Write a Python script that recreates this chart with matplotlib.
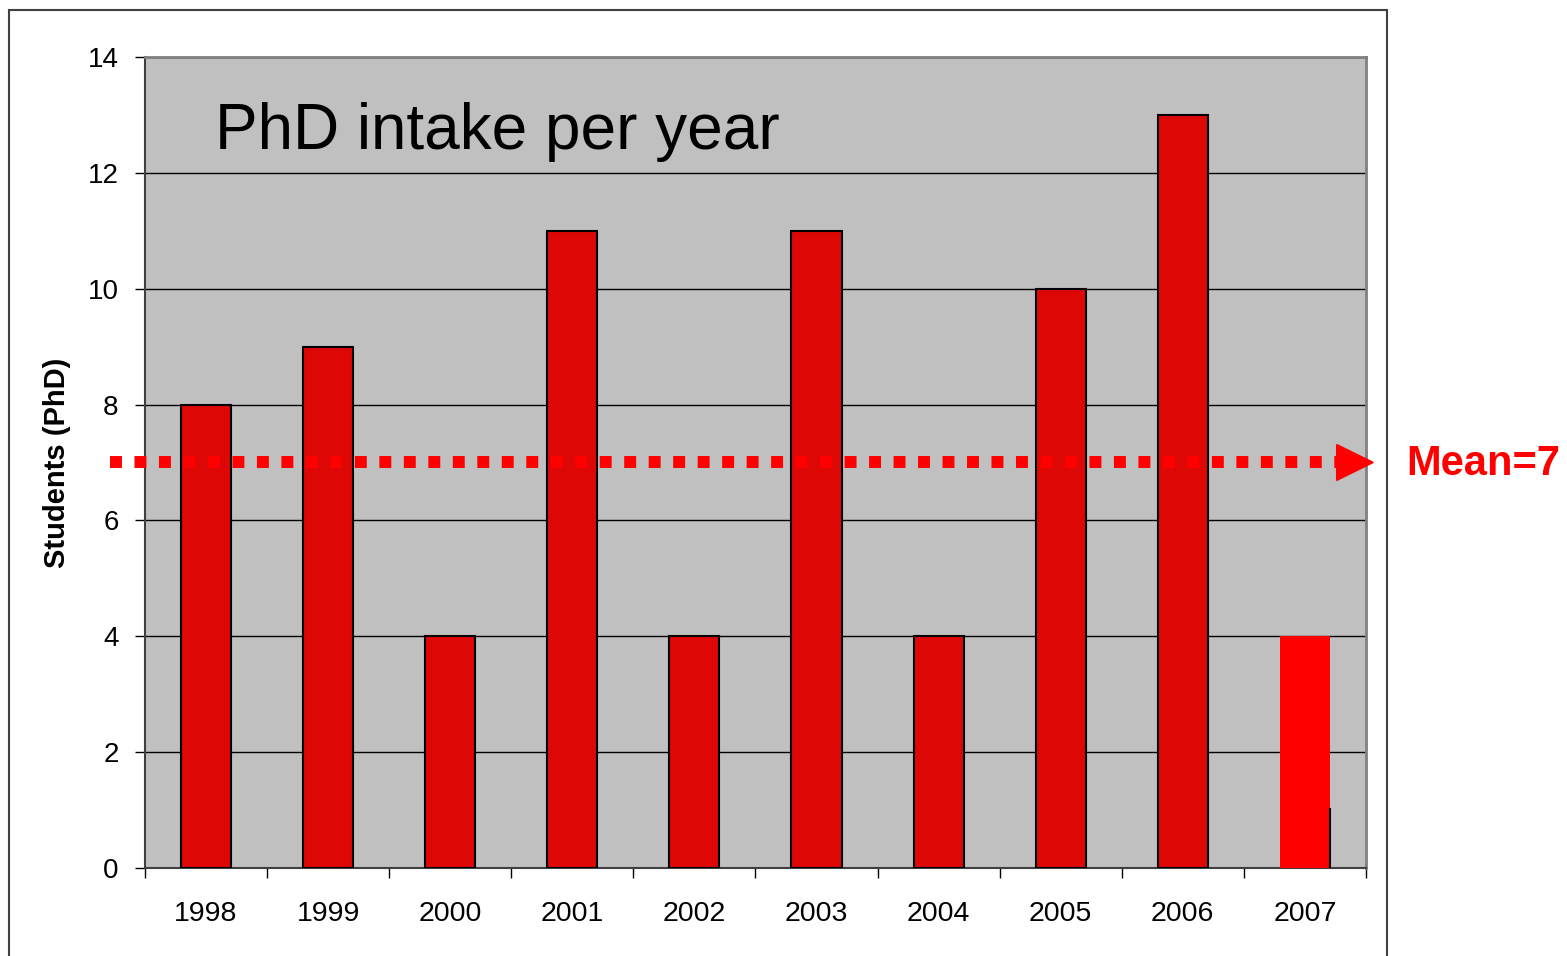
import matplotlib.pyplot as plt
from matplotlib.patches import Rectangle, Polygon
import numpy as np

plt.rcParams['font.family'] = ['Liberation Sans', 'DejaVu Sans']

# --- dades ---
years = ["1998", "1999", "2000", "2001", "2002", "2003", "2004", "2005", "2006", "2007"]
intake = [8, 9, 4, 11, 4, 11, 4, 10, 13, 4]
mean_value = 7
mean_label = "Mean=7"

x = np.arange(len(years))
bar_colors = ["#DD0806"] * (len(years) - 1) + ["#FF0000"]
edge_colors = ["black"] * (len(years) - 1) + ["none"]

fig = plt.figure(figsize=(15.67, 9.56), dpi=100)
ax = fig.add_axes([0.0925, 0.0921, 0.7792, 0.8483])
ax.set_facecolor("#C0C0C0")

# marc exterior
fig.patches.append(Rectangle((9 / 1567, -0.05), 1378 / 1567, 1 - 10 / 956 + 0.05,
                             transform=fig.transFigure, fill=False,
                             edgecolor="#404040", linewidth=1.5, zorder=0))

ax.bar(x, intake, width=0.41, color=bar_colors, edgecolor=edge_colors,
       linewidth=1.5, zorder=3)
# petit tra칞 negre al costat de la darrera barra
ax.plot([x[-1] + 0.205, x[-1] + 0.205], [0, 1.02], color="black", lw=1.5, zorder=4)

ax.set_xlim(-0.5, len(years) - 0.5)
ax.set_ylim(0, 14)
ax.set_yticks(range(0, 15, 2))
ax.yaxis.grid(True, color="black", linewidth=1)
ax.set_axisbelow(True)

ax.set_xticks(x)
ax.set_xticklabels(years)
ax.set_xticks(np.arange(-0.5, len(years), 1), minor=True)
ax.tick_params(axis="x", which="major", length=0, pad=24, labelsize=20.5)
ax.tick_params(axis="x", which="minor", length=7, width=1, color="black")
ax.tick_params(axis="y", length=7, width=1, pad=12, labelsize=20)

for side in ["top", "right"]:
    ax.spines[side].set_color("#808080")
    ax.spines[side].set_linewidth(2)
ax.spines["left"].set_color("#404040")
ax.spines["left"].set_linewidth(1.5)
ax.spines["bottom"].set_color("#404040")
ax.spines["bottom"].set_linewidth(1.5)

ax.set_ylabel("Students (PhD)", fontsize=21, fontweight="bold", labelpad=12)

ax.text(0.057, 0.907, "PhD intake per year", transform=ax.transAxes,
        fontsize=46, va="center", ha="left")

# l칤nia de la mitjana amb fletxa
ax.plot([-0.79, 9.27], [mean_value, mean_value], color="#FF0000", linewidth=8.6,
        dashes=(1, 1.05), solid_capstyle="butt", dash_capstyle="butt",
        clip_on=False, zorder=5)
ax.add_patch(Polygon([[9.26, mean_value + 0.31], [9.26, mean_value - 0.31],
                      [9.56, mean_value]], closed=True, color="#FF0000",
                     clip_on=False, zorder=5))
ax.text(9.83, mean_value - 0.02, mean_label, color="#FF0000", fontsize=30,
        fontweight="bold", va="center", ha="left", clip_on=False)

fig.savefig("out.png", dpi=100)
